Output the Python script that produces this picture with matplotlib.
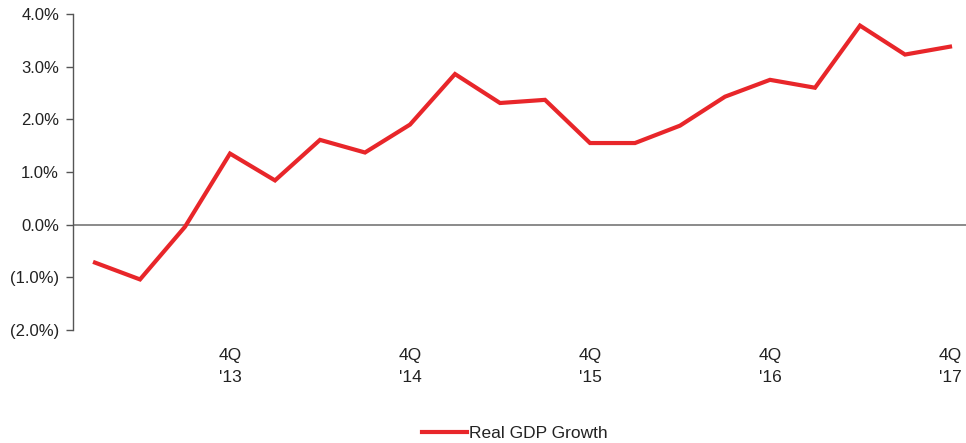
import matplotlib
matplotlib.use("Agg")
import matplotlib.pyplot as plt

plt.rcParams['font.family'] = ['Liberation Sans', 'DejaVu Sans']

# Real GDP growth, quarterly 1Q13 - 4Q17
quarters = ['1Q13', '2Q13', '3Q13', '4Q13', '1Q14', '2Q14', '3Q14', '4Q14',
            '1Q15', '2Q15', '3Q15', '4Q15', '1Q16', '2Q16', '3Q16', '4Q16',
            '1Q17', '2Q17', '3Q17', '4Q17']
gdp_growth = [-0.72, -1.04, -0.04, 1.35, 0.84, 1.61, 1.37, 1.90, 2.86, 2.31,
              2.37, 1.55, 1.55, 1.88, 2.43, 2.75, 2.60, 3.78, 3.23, 3.38]
tick_idx = [3, 7, 11, 15, 19]
tick_labels = ["4Q\n'13", "4Q\n'14", "4Q\n'15", "4Q\n'16", "4Q\n'17"]
y_ticks = [4, 3, 2, 1, 0, -1, -2]

fig = plt.figure(figsize=(9.66, 4.43), dpi=100)
ax = fig.add_axes([73 / 966, 1 - 330 / 443, 1 - 73 / 966, (330 - 14) / 443])

x = list(range(len(quarters)))
ax.plot(x, gdp_growth, color='#e8262a', lw=3, solid_joinstyle='miter',
        label='Real GDP Growth', zorder=3)
ax.axhline(0, color='#777777', lw=1.2, zorder=2)

ax.set_xlim((73 - 95) / 45, (966 - 95) / 45)
ax.set_ylim(-2, 4)

for s in ['top', 'right', 'bottom']:
    ax.spines[s].set_visible(False)
ax.spines['left'].set_color('#555555')
ax.spines['left'].set_linewidth(1)

ax.set_yticks(y_ticks)
ax.set_yticklabels([f'{v:.1f}%' if v >= 0 else f'({abs(v):.1f}%)' for v in y_ticks])
ax.tick_params(axis='y', length=5, width=1, color='#555555', labelsize=12,
               labelcolor='#222222', pad=5)

ax.set_xticks(tick_idx)
ax.set_xticklabels(tick_labels, linespacing=1.6)
ax.tick_params(axis='x', length=0, labelsize=12.5, labelcolor='#222222', pad=13)

leg = fig.legend(loc='lower center', bbox_to_anchor=(0.533, -0.03), frameon=False,
                 fontsize=12.5, handlelength=2.6, handletextpad=0.15)
for t in leg.get_texts():
    t.set_color('#222222')

fig.savefig('out.png', dpi=100)
